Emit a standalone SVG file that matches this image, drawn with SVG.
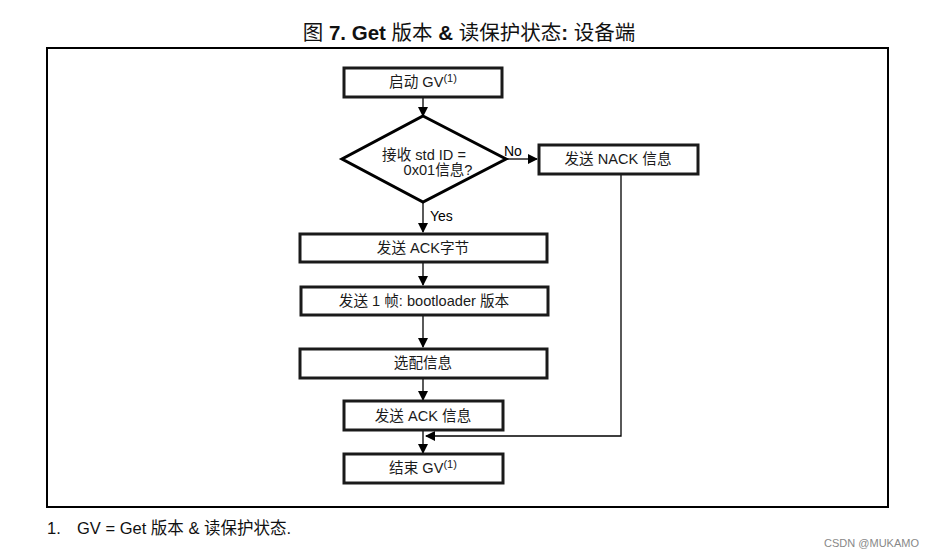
<svg xmlns="http://www.w3.org/2000/svg" width="934" height="558" viewBox="0 0 934 558">
<defs>
<marker id="ah" markerWidth="10" markerHeight="10" refX="9" refY="5" orient="auto" markerUnits="userSpaceOnUse">
<path d="M0,0 L10,5 L0,10 z" fill="#000"/>
</marker>
<style>
.box{fill:#fff;stroke:#1a1a1a;stroke-width:3}
.t{font-family:"Liberation Sans","Noto Sans CJK SC",sans-serif;font-size:14.6px;fill:#1a1a1a;text-anchor:middle}
.sup{font-size:11px}
.c{stroke:#000;stroke-width:1.3;fill:none}
.lbl{font-family:"Liberation Sans","Noto Sans CJK SC",sans-serif;font-size:14px;fill:#000}
</style>
</defs>
<rect width="934" height="558" fill="#fff"/>
<text x="469" y="40" font-family="Liberation Sans,'Noto Sans CJK SC',sans-serif" font-size="20.5" text-anchor="middle" fill="#111">图 <tspan font-weight="bold">7. Get</tspan> 版本 <tspan font-weight="bold">&amp;</tspan> 读保护状态<tspan font-weight="bold">:</tspan> 设备端</text>
<rect x="47" y="48" width="841" height="459" fill="none" stroke="#000" stroke-width="2"/>
<g id="connectors">
<line class="c" x1="423" y1="97" x2="423" y2="116" marker-end="url(#ah)"/>
<line class="c" x1="506" y1="159" x2="537" y2="159" marker-end="url(#ah)"/>
<line class="c" x1="423" y1="202" x2="423" y2="232" marker-end="url(#ah)"/>
<line class="c" x1="423" y1="263" x2="423" y2="285" marker-end="url(#ah)"/>
<line class="c" x1="423" y1="316" x2="423" y2="347" marker-end="url(#ah)"/>
<line class="c" x1="423" y1="379" x2="423" y2="400" marker-end="url(#ah)"/>
<line class="c" x1="423" y1="431" x2="423" y2="453" marker-end="url(#ah)"/>
<polyline class="c" points="621,175 621,436 426,436" stroke="#555" marker-end="url(#ah)"/>
<text class="lbl" x="504" y="156">No</text>
<text class="lbl" x="430" y="221">Yes</text>
</g>
<g id="start">
<rect class="box" x="344" y="68" width="158" height="29"/>
<text class="t" x="423" y="87">启动 GV<tspan class="sup" dy="-5">(1)</tspan></text>
</g>
<g id="decision">
<polygon points="423,116 506,159 423,202 342,159" fill="#fff" stroke="#000" stroke-width="3"/>
<text class="t" x="424" y="160">接收 std ID =</text>
<text class="t" x="438" y="175">0x01信息?</text>
</g>
<g id="nack">
<rect class="box" x="539" y="145" width="159" height="29"/>
<text class="t" x="618" y="164">发送 NACK 信息</text>
</g>
<g id="ackbyte">
<rect class="box" x="300" y="234" width="247" height="28"/>
<text class="t" x="423" y="253">发送 ACK字节</text>
</g>
<g id="frame">
<rect class="box" x="301" y="287" width="247" height="28"/>
<text class="t" x="424" y="306">发送 1 帧: bootloader 版本</text>
</g>
<g id="option">
<rect class="box" x="300" y="349" width="247" height="29"/>
<text class="t" x="423" y="368">选配信息</text>
</g>
<g id="ackmsg">
<rect class="box" x="344" y="401" width="159" height="29"/>
<text class="t" x="423" y="421">发送 ACK 信息</text>
</g>
<g id="end">
<rect class="box" x="344" y="454" width="159" height="29"/>
<text class="t" x="423" y="473">结束 GV<tspan class="sup" dy="-5">(1)</tspan></text>
</g>
<text x="47" y="534" font-family="Liberation Sans,'Noto Sans CJK SC',sans-serif" font-size="16.5" fill="#111">1.<tspan x="77">GV = Get 版本 &amp; 读保护状态.</tspan></text>
<text x="919" y="547" font-family="Liberation Sans,sans-serif" font-size="11" fill="#888" text-anchor="end">CSDN @MUKAMO</text>
</svg>
